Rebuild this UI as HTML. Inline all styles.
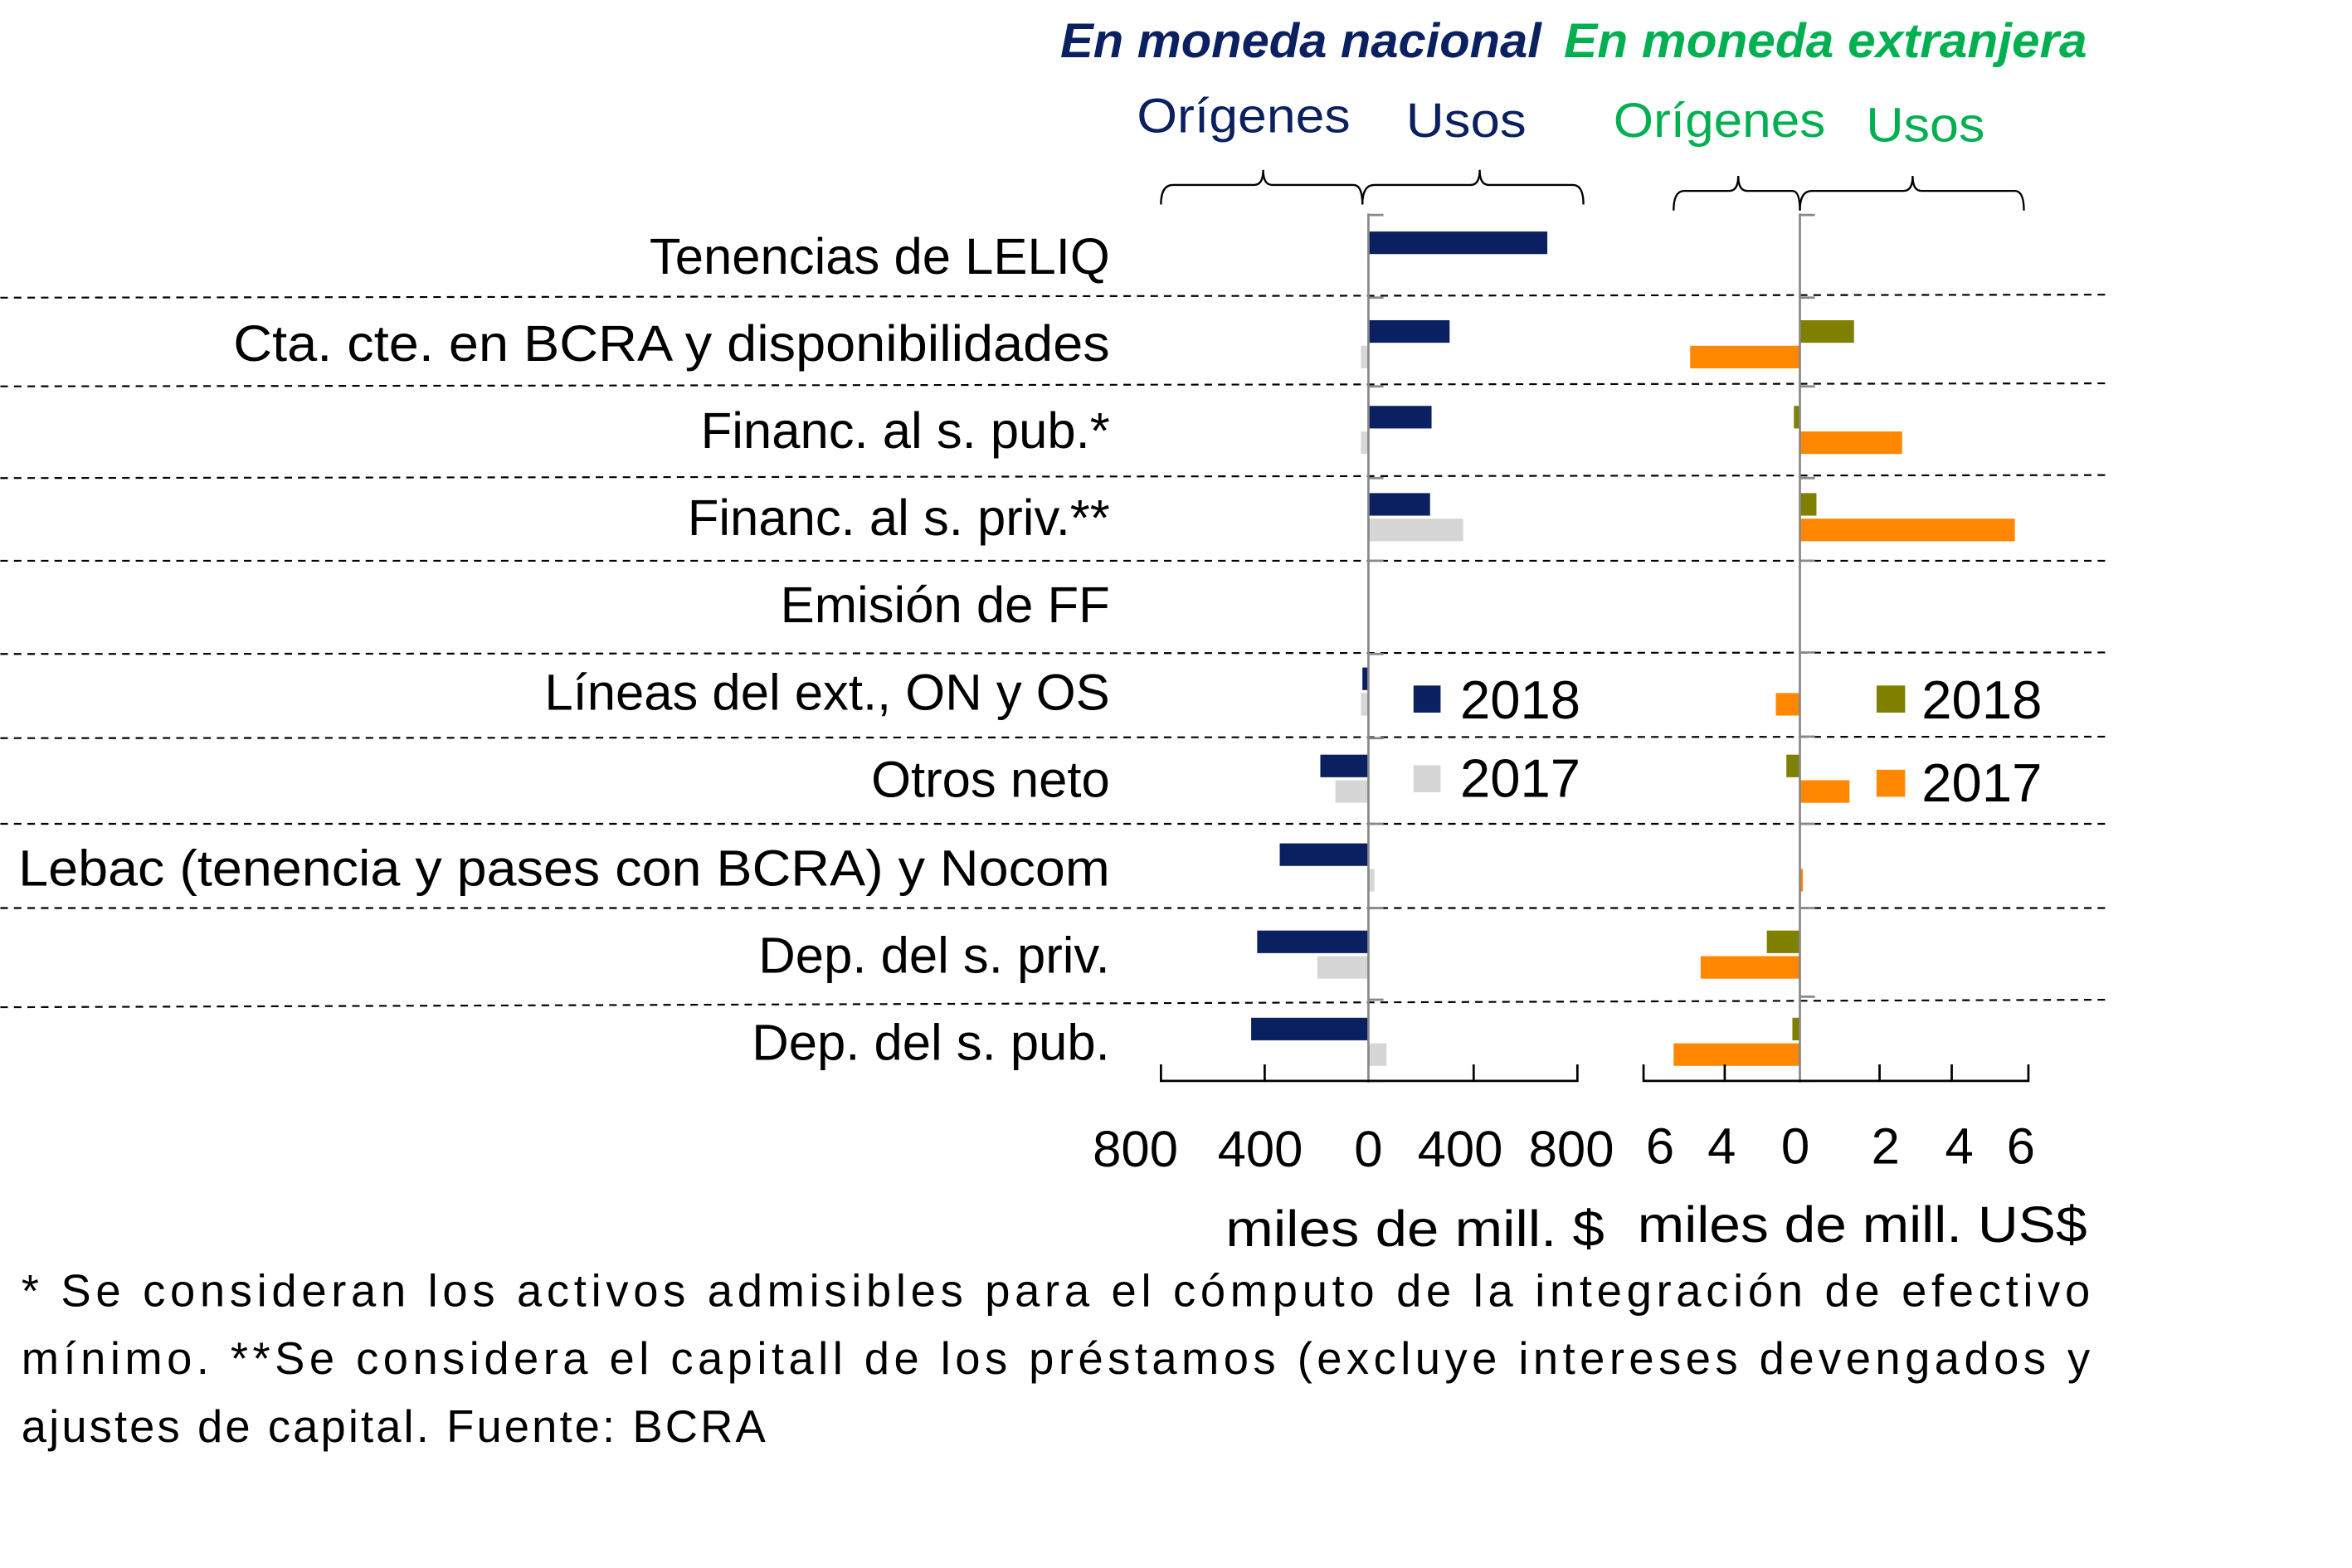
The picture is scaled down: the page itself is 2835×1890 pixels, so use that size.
<!DOCTYPE html>
<html><head><meta charset="utf-8"><style>html,body{margin:0;padding:0;background:#fff}svg{display:block}</style></head>
<body>
<svg width="2835" height="1890" viewBox="0 0 1564 1043" xmlns="http://www.w3.org/2000/svg" font-family="Liberation Sans, sans-serif">
<rect width="1564" height="1043" fill="#fff"/>
<text x="705" y="38" font-size="32" font-weight="bold" font-style="italic" fill="#0a2060" textLength="320" lengthAdjust="spacingAndGlyphs">En moneda nacional</text>
<text x="1040" y="38" font-size="32" font-weight="bold" font-style="italic" fill="#00b050" textLength="348" lengthAdjust="spacingAndGlyphs">En moneda extranjera</text>
<text x="756" y="88" font-size="32" fill="#0a2060" textLength="142" lengthAdjust="spacingAndGlyphs">Orígenes</text>
<text x="935" y="91" font-size="32" fill="#0a2060" textLength="80" lengthAdjust="spacingAndGlyphs">Usos</text>
<text x="1073" y="91" font-size="32" fill="#00b050" textLength="141" lengthAdjust="spacingAndGlyphs">Orígenes</text>
<text x="1241" y="94" font-size="32" fill="#00b050" textLength="79" lengthAdjust="spacingAndGlyphs">Usos</text>
<g fill="none" stroke="#000" stroke-width="1.3">
<path d="M772,136 Q772,123 780,123 L834,123 Q840,123 840,113 Q840,123 846,123 L900,123 Q906,123 906,136"/>
<path d="M906,136 Q906,123 914,123 L978,123 Q984,123 984,113 Q984,123 990,123 L1046,123 Q1053,123 1053,136"/>
<path d="M1113,140 Q1113,127 1120,127 L1150,127 Q1156,127 1156,117 Q1156,127 1162,127 L1192,127 Q1197,127 1197,140"/>
<path d="M1197,140 Q1197,127 1205,127 L1266,127 Q1272,127 1272,117 Q1272,127 1278,127 L1340,127 Q1346,127 1346,140"/>
</g>
<g stroke="#000" stroke-width="1.2" stroke-dasharray="5,4">
<line x1="0" y1="198" x2="1400" y2="196"/>
<line x1="0" y1="257" x2="1400" y2="255"/>
<line x1="0" y1="318" x2="1400" y2="316"/>
<line x1="0" y1="373" x2="1400" y2="373"/>
<line x1="0" y1="435" x2="1400" y2="434"/>
<line x1="0" y1="491" x2="1400" y2="490"/>
<line x1="0" y1="548" x2="1400" y2="548"/>
<line x1="0" y1="604" x2="1400" y2="604"/>
<line x1="0" y1="670" x2="1400" y2="665"/>
</g>
<g font-size="34" fill="#000" text-anchor="end">
<text x="738" y="182">Tenencias de LELIQ</text>
<text x="738" y="240" textLength="583" lengthAdjust="spacingAndGlyphs">Cta. cte. en BCRA y disponibilidades</text>
<text x="738" y="298">Financ. al s. pub.*</text>
<text x="738" y="356">Financ. al s. priv.**</text>
<text x="738" y="414">Emisión de FF</text>
<text x="738" y="472">Líneas del ext., ON y OS</text>
<text x="738" y="530">Otros neto</text>
<text x="738" y="589" textLength="726" lengthAdjust="spacingAndGlyphs">Lebac (tenencia y pases con BCRA) y Nocom</text>
<text x="738" y="647">Dep. del s. priv.</text>
<text x="738" y="705">Dep. del s. pub.</text>
</g>
<!-- left bars -->
<g fill="#0a2060">
<rect x="910" y="154" width="119" height="15"/>
<rect x="910" y="213" width="54" height="15"/>
<rect x="910" y="270" width="42" height="15"/>
<rect x="910" y="328" width="41" height="15"/>
<rect x="906" y="444" width="4" height="15"/>
<rect x="878" y="502" width="32" height="15"/>
<rect x="851" y="561" width="59" height="15"/>
<rect x="836" y="619" width="74" height="15"/>
<rect x="832" y="677" width="78" height="15"/>
</g>
<g fill="#d6d6d6">
<rect x="905" y="230" width="5" height="15"/>
<rect x="905" y="287" width="5" height="15"/>
<rect x="910" y="345" width="63" height="15"/>
<rect x="905" y="461" width="5" height="15"/>
<rect x="888" y="519" width="22" height="15"/>
<rect x="910" y="578" width="4" height="15"/>
<rect x="876" y="636" width="34" height="15"/>
<rect x="910" y="694" width="12" height="15"/>
</g>
<!-- right bars -->
<g fill="#7f8000">
<rect x="1197" y="213" width="36" height="15"/>
<rect x="1193" y="270" width="4" height="15"/>
<rect x="1197" y="328" width="11" height="15"/>
<rect x="1188" y="502" width="9" height="15"/>
<rect x="1175" y="619" width="22" height="15"/>
<rect x="1192" y="677" width="5" height="15"/>
</g>
<g fill="#ff8800">
<rect x="1124" y="230" width="73" height="15"/>
<rect x="1197" y="287" width="68" height="15"/>
<rect x="1197" y="345" width="143" height="15"/>
<rect x="1181" y="461" width="16" height="15"/>
<rect x="1197" y="519" width="33" height="15"/>
<rect x="1197" y="578" width="2" height="15"/>
<rect x="1131" y="636" width="66" height="15"/>
<rect x="1113" y="694" width="84" height="15"/>
</g>
<!-- axes -->
<g stroke="#888" stroke-width="1.5" fill="none">
<line x1="910" y1="142" x2="910" y2="720"/>
<line x1="1197" y1="142" x2="1197" y2="720"/>
<path d="M910,143 h10 M910,198 h10 M910,257 h10 M910,318 h10 M910,373 h10 M910,435 h10 M910,491 h10 M910,548 h10 M910,604 h10 M910,665 h10 M910,719 h10"/>
<path d="M1197,143 h10 M1197,198 h10 M1197,257 h10 M1197,318 h10 M1197,373 h10 M1197,434 h10 M1197,490 h10 M1197,548 h10 M1197,604 h10 M1197,663 h10 M1197,719 h10"/>
</g>
<g stroke="#000" stroke-width="1.5" fill="none">
<path d="M772,708 V719 H1049 V708 M841,708 V719 M980,708 V719"/>
<path d="M1093,708 V719 H1349 V708 M1147,708 V719 M1250,708 V719 M1298,708 V719"/>
</g>
<g font-size="34" fill="#000" text-anchor="middle">
<text x="755" y="776">800</text><text x="838" y="776">400</text><text x="910" y="776">0</text><text x="971" y="776">400</text><text x="1045" y="776">800</text>
<text x="1104" y="774">6</text><text x="1145" y="774">4</text><text x="1194" y="774">0</text><text x="1254" y="774">2</text><text x="1303" y="774">4</text><text x="1344" y="774">6</text>
</g>
<text x="815" y="829" font-size="34" textLength="252" lengthAdjust="spacingAndGlyphs">miles de mill. $</text>
<text x="1089" y="826" font-size="34" textLength="299" lengthAdjust="spacingAndGlyphs">miles de mill. US$</text>
<!-- legends -->
<rect x="940" y="456" width="18" height="18" fill="#0a2060"/>
<rect x="940" y="509" width="18" height="18" fill="#d6d6d6"/>
<text x="971" y="478" font-size="36">2018</text>
<text x="971" y="530" font-size="36">2017</text>
<rect x="1248" y="456" width="19" height="18" fill="#7f8000"/>
<rect x="1248" y="512" width="19" height="18" fill="#ff8800"/>
<text x="1278" y="478" font-size="36">2018</text>
<text x="1278" y="533" font-size="36">2017</text>
<!-- footnote -->
<g font-size="30" fill="#000">
<text x="14" y="869" textLength="1376" lengthAdjust="spacing">* Se consideran los activos admisibles para el cómputo de la integración de efectivo</text>
<text x="14" y="914" textLength="1376" lengthAdjust="spacing">mínimo. **Se considera el capitall de los préstamos (excluye intereses devengados y</text>
<text x="14" y="959" textLength="495" lengthAdjust="spacing">ajustes de capital. Fuente: BCRA</text>
</g>
</svg>
</body></html>
